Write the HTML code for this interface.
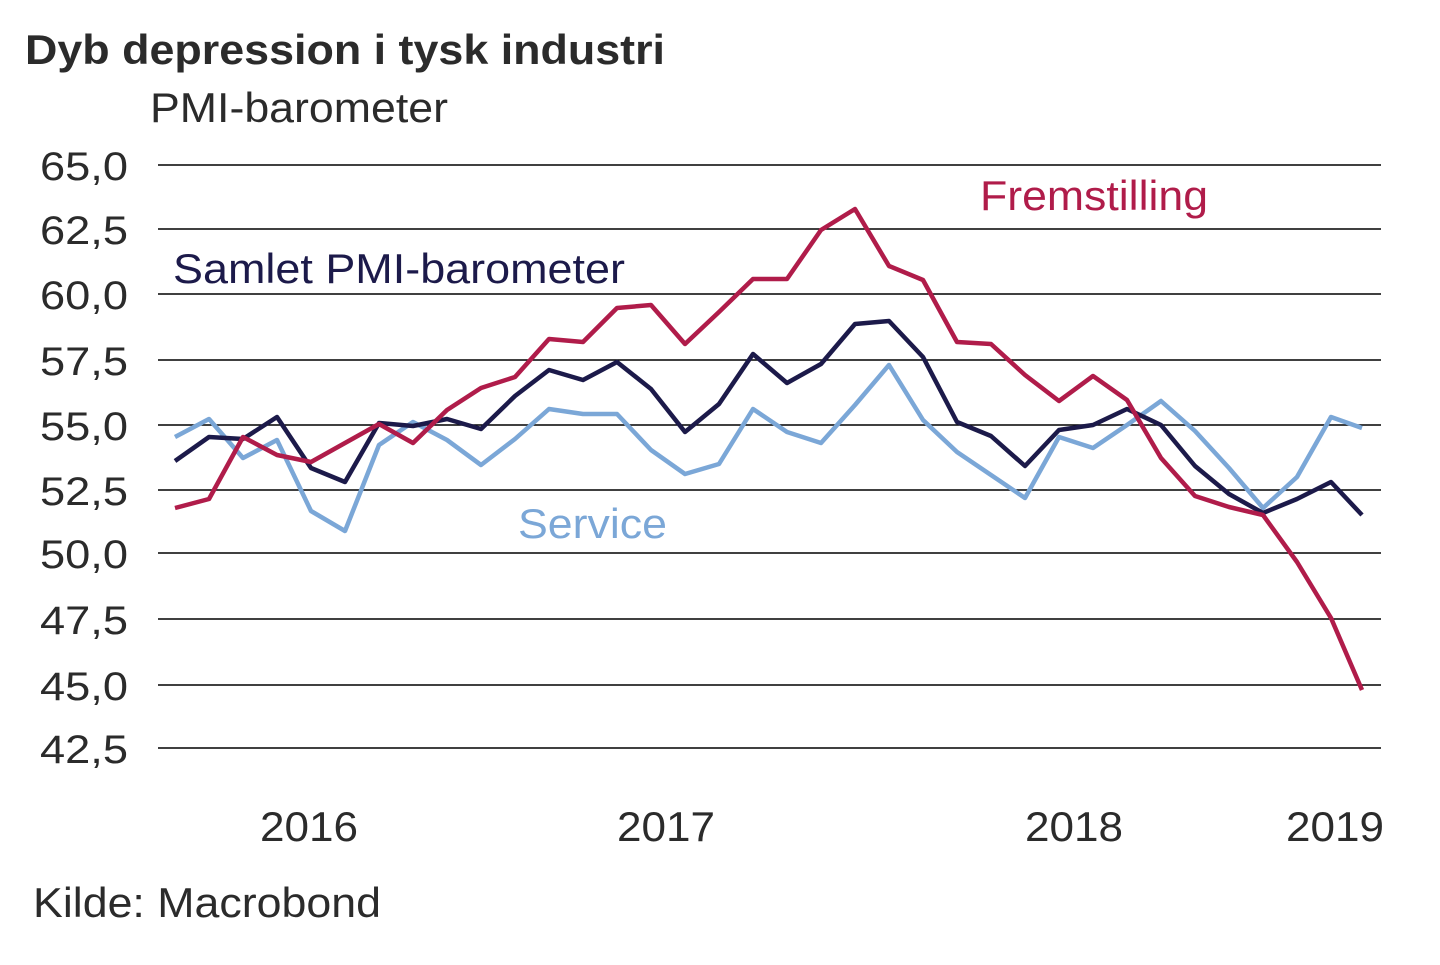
<!DOCTYPE html>
<html><head><meta charset="utf-8"><style>
body{margin:0;background:#fff;}
svg text{font-family:"Liberation Sans",Arial,sans-serif;}
</style></head><body>
<svg width="1440" height="960" viewBox="0 0 1440 960" xmlns="http://www.w3.org/2000/svg">
<rect width="1440" height="960" fill="#fff"/>
<text x="25" y="64" font-size="42" font-weight="bold" fill="#2b2b2b" textLength="640" lengthAdjust="spacingAndGlyphs">Dyb depression i tysk industri</text>
<text x="150" y="122" font-size="42" fill="#2b2b2b" textLength="298" lengthAdjust="spacingAndGlyphs">PMI-barometer</text>
<g stroke="#000" stroke-width="1.5">
<line x1="158" x2="1381" y1="165" y2="165"/><line x1="158" x2="1381" y1="229" y2="229"/>
<line x1="158" x2="1381" y1="294" y2="294"/><line x1="158" x2="1381" y1="360" y2="360"/>
<line x1="158" x2="1381" y1="425" y2="425"/><line x1="158" x2="1381" y1="490" y2="490"/>
<line x1="158" x2="1381" y1="553" y2="553"/><line x1="158" x2="1381" y1="619" y2="619"/>
<line x1="158" x2="1381" y1="685" y2="685"/><line x1="158" x2="1381" y1="748" y2="748"/>
</g>
<g font-size="40" fill="#2b2b2b" text-anchor="end">
<text x="128" y="180" textLength="88" lengthAdjust="spacingAndGlyphs">65,0</text><text x="128" y="244" textLength="88" lengthAdjust="spacingAndGlyphs">62,5</text><text x="128" y="309" textLength="88" lengthAdjust="spacingAndGlyphs">60,0</text>
<text x="128" y="375" textLength="88" lengthAdjust="spacingAndGlyphs">57,5</text><text x="128" y="440" textLength="88" lengthAdjust="spacingAndGlyphs">55,0</text><text x="128" y="505" textLength="88" lengthAdjust="spacingAndGlyphs">52,5</text>
<text x="128" y="568" textLength="88" lengthAdjust="spacingAndGlyphs">50,0</text><text x="128" y="634" textLength="88" lengthAdjust="spacingAndGlyphs">47,5</text><text x="128" y="700" textLength="88" lengthAdjust="spacingAndGlyphs">45,0</text>
<text x="128" y="763" textLength="88" lengthAdjust="spacingAndGlyphs">42,5</text>
</g>
<g font-size="42" fill="#2b2b2b">
<text x="260" y="841" textLength="98" lengthAdjust="spacingAndGlyphs">2016</text><text x="617" y="841" textLength="98" lengthAdjust="spacingAndGlyphs">2017</text><text x="1025" y="841" textLength="98" lengthAdjust="spacingAndGlyphs">2018</text><text x="1286" y="841" textLength="98" lengthAdjust="spacingAndGlyphs">2019</text>
</g>
<text x="33" y="917" font-size="42" fill="#2b2b2b" textLength="348" lengthAdjust="spacingAndGlyphs">Kilde: Macrobond</text>
<g fill="none" stroke-width="4.5" stroke-linejoin="round">
<polyline stroke="#7ba7d7" points="175,437 209,419 243,458 277,440 311,511 345,531 379,445 413,422 447,440 481,465 515,439 549,409 583,414 617,414 651,450 685,474 719,464 753,409 787,432 821,443 855,405 889,365 923,420 957,452 991,475 1025,498 1059,437 1093,448 1127,425 1161,401 1195,431 1229,468 1263,508 1297,477 1331,417 1362,428"/>
<polyline stroke="#1c1a4a" points="175,461 209,437 243,439 277,417 311,468 345,482 379,423 413,426 447,419 481,429 515,396 549,370 583,380 617,362 651,389 685,432 719,404 753,354 787,383 821,364 855,324 889,321 923,357 957,422 991,436 1025,466 1059,430 1093,425 1127,409 1161,425 1195,466 1229,494 1263,513 1297,499 1331,482 1362,515"/>
<polyline stroke="#b01c4a" points="175,508 209,499 243,437 277,455 311,462 345,443 379,424 413,443 447,410 481,388 515,377 549,339 583,342 617,308 651,305 685,344 719,312 753,279 787,279 821,230 855,209 889,266 923,280 957,342 991,344 1025,375 1059,401 1093,376 1127,400 1161,458 1195,496 1229,507 1263,515 1297,562 1331,618 1362,690"/>
</g>
<text x="980" y="210" font-size="42" fill="#b01c4a" textLength="228" lengthAdjust="spacingAndGlyphs">Fremstilling</text>
<text x="173" y="283" font-size="42" fill="#1c1a4a" textLength="452" lengthAdjust="spacingAndGlyphs">Samlet PMI-barometer</text>
<text x="518" y="538" font-size="42" fill="#7ba7d7" textLength="149" lengthAdjust="spacingAndGlyphs">Service</text>
</svg>
</body></html>
